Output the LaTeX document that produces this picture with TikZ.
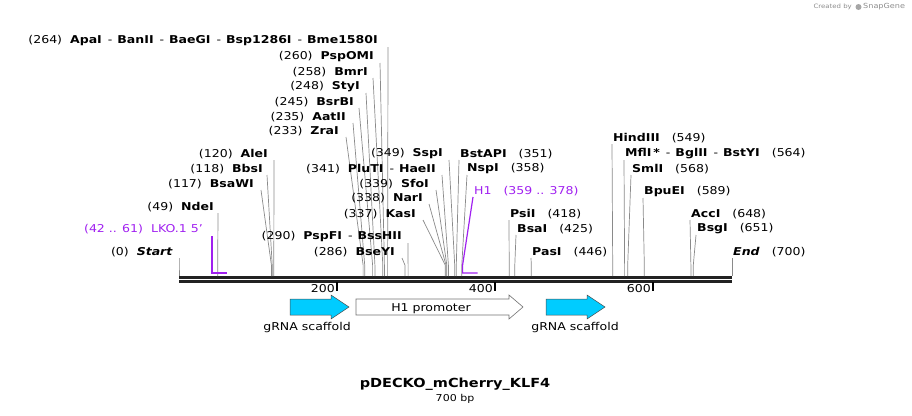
\documentclass[tikz,border=0pt]{standalone}
\usepackage{fontspec}
\setmainfont{DejaVu Sans}[FakeStretch=1.16]
\definecolor{cutgray}{HTML}{8A8A8A}
\definecolor{featpurple}{HTML}{A020F0}
\definecolor{scaf}{HTML}{00CCFF}
\definecolor{bb}{HTML}{222222}
\newcommand\enz[1]{\textbf{#1}}
\newcommand\gapL{\hspace{8pt}}
\newcommand\gapR{\hspace{12pt}}
\newcommand\dsh{\hspace{6pt}-\hspace{5pt}}
\newcommand\lsite[6]{%
  \node[lbl,anchor=east] (l-#1) at (#3,#4) {#2};
  \coordinate (t-#1) at (#5,#4+6);
  \coordinate (c-#1) at (#6,276);
  \draw[cut] (t-#1) -- ([yshift=11pt]c-#1) -- (c-#1);}
\newcommand\rsite[6]{%
  \node[lbl,anchor=west] (l-#1) at (#3,#4) {#2};
  \coordinate (t-#1) at (#5,#4+6);
  \coordinate (c-#1) at (#6,276);
  \draw[cut] (t-#1) -- ([yshift=11pt]c-#1) -- (c-#1);}
\begin{document}
\begin{tikzpicture}[x=1pt,y=-1pt,
  lbl/.style={inner sep=0pt,font=\fontsize{10.8}{12}\selectfont},
  cut/.style={draw=cutgray,line width=0.7pt},
  feat/.style={draw=featpurple,line width=1.4pt},
  scafarrow/.style={fill=scaf,draw=black!70,line width=0.5pt},
  promarrow/.style={fill=white,draw=black!55,line width=0.6pt}]
\useasboundingbox (0,0) rectangle (912,415);

% backbone
\coordinate (b0) at (179,277.5);
\coordinate (b1) at (732,277.5);
\draw[bb,line width=3pt] (b0) -- (b1);
\draw[bb,line width=2.4pt] ([yshift=-4pt]b0) -- ([yshift=-4pt]b1);

% ticks
\foreach \xx/\lab in {337/200,495/400,653/600}{
  \coordinate (tk-\lab) at (\xx,282);
  \draw[black,line width=2pt] (tk-\lab) -- ++(0,9);
  \node[lbl,anchor=east] (tl-\lab) at (\xx-2,289) {\lab};
}

% left labels
\lsite{apa}{(264)\gapL\enz{ApaI}\dsh\enz{BanII}\dsh\enz{BaeGI}\dsh\enz{Bsp1286I}\dsh\enz{Bme1580I}}{378}{41}{388}{387.6}
\lsite{pspomi}{(260)\gapL\enz{PspOMI}}{374}{57}{380}{384.4}
\lsite{bmri}{(258)\gapL\enz{BmrI}}{368}{72}{373}{382.8}
\lsite{styi}{(248)\gapL\enz{StyI}}{360}{87}{366}{374.9}
\lsite{bsrbi}{(245)\gapL\enz{BsrBI}}{354}{102}{359}{372.6}
\lsite{aatii}{(235)\gapL\enz{AatII}}{346}{117}{353}{364.7}
\lsite{zrai}{(233)\gapL\enz{ZraI}}{339}{131}{346}{363.1}
\lsite{alei}{(120)\gapL\enz{AleI}}{268}{154}{274}{273.8}
\lsite{bbsi}{(118)\gapL\enz{BbsI}}{263}{169}{267}{272.2}
\lsite{bsawi}{(117)\gapL\enz{BsaWI}}{254}{184}{261}{271.4}
\lsite{ndei}{(49)\gapL\enz{NdeI}}{214}{207}{218}{217.7}
\lsite{start}{(0)\gapL\textbf{\itshape Start}}{173}{252}{179}{179}
\lsite{sspi}{(349)\gapL\enz{SspI}}{443}{154}{449}{454.7}
\lsite{pluti}{(341)\gapL\enz{PluTI}\dsh\enz{HaeII}}{436}{169}{442}{448.4}
\lsite{sfoi}{(339)\gapL\enz{SfoI}}{429}{184}{436}{446.8}
\lsite{nari}{(338)\gapL\enz{NarI}}{423}{198}{429}{446}
\lsite{kasi}{(337)\gapL\enz{KasI}}{416}{214}{423}{445.2}
\lsite{pspfi}{(290)\gapL\enz{PspFI}\dsh\enz{BssHII}}{402}{237}{408}{408.1}
\lsite{bseyi}{(286)\gapL\enz{BseYI}}{395}{252}{402}{404.9}

% right labels
\rsite{bstapi}{\enz{BstAPI}\gapR(351)}{460}{154}{459}{456.3}
\rsite{nspi}{\enz{NspI}\gapR(358)}{467}{169}{467}{461.8}
\rsite{psii}{\enz{PsiI}\gapR(418)}{510}{214}{509}{509.2}
\rsite{bsai}{\enz{BsaI}\gapR(425)}{517}{229}{516}{514.8}
\rsite{pasi}{\enz{PasI}\gapR(446)}{532}{252}{531}{531.3}
\rsite{hind}{\enz{HindIII}\gapR(549)}{613}{138}{612}{612.7}
\rsite{mfli}{\enz{MflI\,*}\dsh\enz{BglII}\dsh\enz{BstYI}\gapR(564)}{625}{154}{624}{624.6}
\rsite{smli}{\enz{SmlI}\gapR(568)}{632}{169}{631}{627.7}
\rsite{bpuei}{\enz{BpuEI}\gapR(589)}{644}{192}{643}{644.3}
\rsite{acci}{\enz{AccI}\gapR(648)}{691}{214}{690}{690.9}
\rsite{bsgi}{\enz{BsgI}\gapR(651)}{697}{229}{696}{693.3}
\rsite{end}{\textbf{\itshape End}\gapR(700)}{733}{252}{732}{732}

% purple features
\node[lbl,text=featpurple,anchor=east] (l-lko) at (203,229) {(42 .. 61)\gapL LKO.1 5'};
\coordinate (t-lko) at (212,236);
\coordinate (e-lko) at (227.2,273);
\draw[feat] (t-lko) -- (t-lko |- e-lko) -- (e-lko);
\node[lbl,text=featpurple,anchor=west] (l-h1) at (474,191) {H1\gapR(359 .. 378)};
\coordinate (t-h1) at (473,197);
\coordinate (s-h1) at (462.6,273);
\coordinate (e-h1) at (477.6,273);
\draw[feat,line width=1.2pt] (t-h1) -- ([yshift=8pt]s-h1) -- (s-h1) -- (e-h1);

% feature arrows
\draw[scafarrow] (290,299) -- (331,299) -- (331,295) -- (349,307) -- (331,319) -- (331,315) -- (290,315) -- cycle;
\node[lbl,anchor=center] (g1) at (307,328) {gRNA scaffold};
\draw[promarrow] (356,299) -- (509,299) -- (509,295) -- (523,307) -- (509,319) -- (509,315) -- (356,315) -- cycle;
\node[lbl,anchor=base] (h1p) at (431,311) {H1 promoter};
\draw[scafarrow] (546,299) -- (587,299) -- (587,295) -- (605,307) -- (587,319) -- (587,315) -- (546,315) -- cycle;
\node[lbl,anchor=center] (g2) at (575,328) {gRNA scaffold};

% title
\node[inner sep=0pt,font=\fontsize{12.5}{15}\selectfont\bfseries] (title) at (455,384) {pDECKO\_mCherry\_KLF4};
\node[inner sep=0pt,font=\fontsize{9.5}{11}\selectfont] (len) at (455,398.5) {700 bp};

% credit
\node[inner sep=0pt,anchor=east,text=black!45,font=\fontsize{6}{7}\selectfont] (cr1) at (852,7) {Created by};
\fill[black!35] (858.5,7) circle (3pt);
\node[inner sep=0pt,anchor=west,text=black!45,font=\fontsize{7}{8}\selectfont] (cr2) at (863,7) {SnapGene};
\end{tikzpicture}
\end{document}
